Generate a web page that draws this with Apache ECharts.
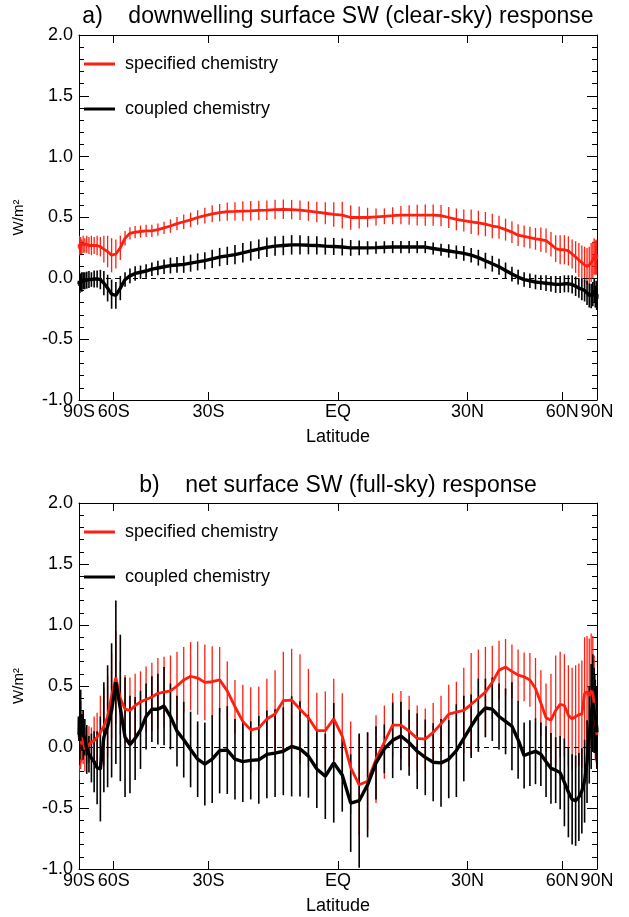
<html>
<head>
    <meta charset="utf-8">
    <title>SW response</title>
    <script src="https://cdn.jsdelivr.net/npm/echarts@6/dist/echarts.min.js"></script>
</head>
<body style="margin:0;background:#fff;">
<div id="main" style="width:629px;height:917px;"></div>
<script type="text/javascript">
    // model latitudes (1.875 deg grid)
    var lats = [-89.06,-87.19,-85.31,-83.44,-81.56,-79.69,-77.81,-75.94,-74.06,-72.19,-70.31,-68.44,-66.56,-64.69,-62.81,-60.94,
        -59.06,-57.19,-55.31,-53.44,-51.56,-49.69,-47.81,-45.94,-44.06,-42.19,-40.31,-38.44,-36.56,-34.69,-32.81,-30.94,
        -29.06,-27.19,-25.31,-23.44,-21.56,-19.69,-17.81,-15.94,-14.06,-12.19,-10.31,-8.44,-6.56,-4.69,-2.81,-0.94,
        0.94,2.81,4.69,6.56,8.44,10.31,12.19,14.06,15.94,17.81,19.69,21.56,23.44,25.31,27.19,29.06,
        30.94,32.81,34.69,36.56,38.44,40.31,42.19,44.06,45.94,47.81,49.69,51.56,53.44,55.31,57.19,59.06,
        60.94,62.81,64.69,66.56,68.44,70.31,72.19,74.06,75.94,77.81,79.69,81.56,83.44,85.31,87.19,89.06];

    var tickLats = [-90, -60, -30, 0, 30, 60, 90];
    var tickNames = ['90S', '60S', '30S', 'EQ', '30N', '60N', '90N'];

    // a) downwelling surface SW (clear-sky)
    var aSpec = [0.25,0.28,0.24,0.27,0.26,0.28,0.27,0.28,0.27,0.27,0.27,0.27,0.26,0.24,0.22,0.19,
        0.20,0.25,0.33,0.37,0.38,0.385,0.39,0.39,0.40,0.415,0.43,0.45,0.465,0.48,0.50,0.515,
        0.53,0.54,0.548,0.55,0.553,0.555,0.558,0.56,0.565,0.567,0.565,0.56,0.553,0.545,0.535,0.525,
        0.52,0.50,0.50,0.50,0.505,0.51,0.515,0.52,0.52,0.52,0.52,0.52,0.515,0.50,0.485,0.475,
        0.465,0.455,0.445,0.43,0.42,0.40,0.38,0.355,0.345,0.335,0.325,0.318,0.31,0.28,0.245,0.235,
        0.235,0.225,0.20,0.175,0.15,0.13,0.11,0.10,0.11,0.13,0.15,0.18,0.17,0.20,0.16,0.19];
    var aSpecErr = [0.06,0.07,0.05,0.07,0.06,0.07,0.06,0.07,0.07,0.08,0.07,0.08,0.08,0.11,0.13,0.14,
        0.12,0.10,0.06,0.05,0.05,0.05,0.05,0.05,0.05,0.05,0.055,0.055,0.06,0.06,0.06,0.065,
        0.07,0.07,0.075,0.075,0.08,0.08,0.08,0.08,0.08,0.08,0.08,0.08,0.08,0.085,0.09,0.10,
        0.11,0.10,0.09,0.08,0.07,0.065,0.07,0.075,0.08,0.085,0.087,0.087,0.087,0.087,0.09,0.09,
        0.10,0.10,0.10,0.10,0.095,0.09,0.09,0.09,0.09,0.09,0.09,0.10,0.10,0.10,0.11,0.12,
        0.12,0.12,0.12,0.13,0.14,0.14,0.15,0.15,0.15,0.16,0.15,0.15,0.14,0.12,0.13,0.12];
    var aCoup = [-0.05,-0.02,-0.06,-0.03,-0.03,-0.02,-0.02,-0.015,-0.01,-0.01,-0.005,-0.005,-0.01,-0.04,-0.08,-0.13,
        -0.14,-0.08,-0.01,0.02,0.04,0.05,0.06,0.075,0.085,0.095,0.105,0.11,0.115,0.125,0.135,0.145,
        0.16,0.175,0.185,0.195,0.21,0.225,0.24,0.255,0.265,0.27,0.275,0.275,0.272,0.27,0.265,0.262,
        0.258,0.25,0.25,0.25,0.252,0.255,0.257,0.257,0.257,0.257,0.257,0.245,0.235,0.225,0.215,0.205,
        0.19,0.17,0.145,0.12,0.095,0.065,0.035,0.01,-0.01,-0.02,-0.03,-0.035,-0.04,-0.045,-0.05,-0.05,
        -0.045,-0.045,-0.05,-0.065,-0.08,-0.09,-0.10,-0.12,-0.14,-0.145,-0.13,-0.10,-0.15,-0.12,-0.17,-0.13];
    var aCoupErr = [0.07,0.08,0.06,0.07,0.08,0.07,0.07,0.07,0.07,0.06,0.07,0.07,0.08,0.10,0.11,0.12,
        0.11,0.10,0.06,0.06,0.06,0.055,0.055,0.055,0.06,0.06,0.065,0.065,0.07,0.07,0.07,0.07,
        0.075,0.075,0.075,0.08,0.08,0.08,0.08,0.08,0.08,0.08,0.08,0.08,0.075,0.075,0.07,0.07,
        0.07,0.065,0.06,0.055,0.05,0.05,0.05,0.05,0.05,0.05,0.05,0.05,0.05,0.055,0.055,0.06,
        0.06,0.065,0.065,0.065,0.065,0.065,0.06,0.06,0.06,0.06,0.06,0.06,0.065,0.065,0.07,0.07,
        0.07,0.07,0.075,0.08,0.08,0.09,0.09,0.10,0.10,0.10,0.10,0.10,0.09,0.10,0.09,0.10];

    // b) net surface SW (full-sky)
    var bSpec = [0.08,0.12,0.05,0.10,0.02,0.08,-0.02,-0.02,0.02,0.04,0.05,0.08,0.12,0.17,0.25,0.42,
        0.57,0.40,0.31,0.30,0.34,0.37,0.39,0.41,0.44,0.45,0.46,0.50,0.55,0.58,0.565,0.53,
        0.535,0.55,0.46,0.33,0.21,0.14,0.155,0.23,0.27,0.38,0.385,0.31,0.24,0.135,0.135,0.23,
        0.09,-0.17,-0.31,-0.28,-0.10,0.04,0.18,0.18,0.13,0.07,0.065,0.12,0.19,0.27,0.285,0.30,
        0.35,0.40,0.45,0.53,0.63,0.655,0.62,0.59,0.575,0.55,0.48,0.36,0.24,0.22,0.30,0.35,
        0.34,0.26,0.23,0.25,0.265,0.27,0.44,0.45,0.42,0.46,0.44,0.35,0.24,0.18,0.12,0.10];
    var bSpecErr = [0.35,0.30,0.20,0.28,0.15,0.22,0.18,0.12,0.15,0.12,0.20,0.20,0.30,0.32,0.33,0.35,
        0.38,0.30,0.28,0.27,0.26,0.25,0.27,0.28,0.29,0.29,0.29,0.28,0.27,0.28,0.30,0.31,
        0.29,0.27,0.24,0.22,0.30,0.35,0.34,0.33,0.36,0.40,0.42,0.45,0.40,0.31,0.32,0.33,
        0.35,0.38,0.41,0.40,0.36,0.30,0.26,0.28,0.29,0.27,0.25,0.24,0.23,0.24,0.25,0.35,
        0.42,0.40,0.37,0.30,0.24,0.23,0.22,0.21,0.20,0.22,0.25,0.27,0.28,0.38,0.45,0.43,
        0.42,0.41,0.42,0.42,0.42,0.44,0.46,0.46,0.47,0.47,0.47,0.40,0.35,0.30,0.30,0.28];
    var bCoup = [0.10,0.25,0.05,0.27,0.12,0.10,0.08,-0.02,-0.06,-0.09,-0.12,-0.17,-0.18,0.08,0.17,0.30,
        0.53,0.32,0.08,0.02,0.07,0.14,0.25,0.31,0.31,0.335,0.25,0.13,0.06,-0.02,-0.10,-0.14,
        -0.10,-0.03,-0.025,-0.10,-0.12,-0.11,-0.105,-0.06,-0.05,-0.035,0.005,-0.015,-0.075,-0.18,-0.24,-0.13,
        -0.23,-0.46,-0.44,-0.31,-0.13,-0.015,0.055,0.09,0.035,-0.035,-0.085,-0.125,-0.13,-0.10,-0.03,0.07,
        0.17,0.26,0.32,0.31,0.25,0.21,0.17,0.06,-0.07,-0.05,-0.035,-0.06,-0.12,-0.175,-0.19,-0.21,
        -0.29,-0.37,-0.43,-0.44,-0.41,-0.36,-0.28,-0.12,0.10,0.25,0.36,0.30,0.25,0.20,0.16,0.12];
    var bCoupErr = [0.25,0.20,0.15,0.20,0.15,0.20,0.15,0.20,0.15,0.20,0.25,0.30,0.43,0.45,0.50,0.55,
        0.67,0.60,0.49,0.40,0.34,0.32,0.27,0.27,0.29,0.32,0.27,0.29,0.31,0.31,0.31,0.34,
        0.36,0.35,0.36,0.33,0.33,0.32,0.36,0.36,0.36,0.36,0.41,0.39,0.34,0.32,0.35,0.49,
        0.30,0.40,0.55,0.43,0.30,0.20,0.31,0.28,0.27,0.31,0.31,0.32,0.36,0.32,0.38,0.35,
        0.26,0.30,0.24,0.26,0.27,0.27,0.36,0.32,0.27,0.27,0.27,0.26,0.29,0.29,0.27,0.30,
        0.36,0.37,0.37,0.37,0.36,0.35,0.34,0.34,0.40,0.43,0.40,0.35,0.30,0.30,0.30,0.30];

    var RED = '#ff1e10';
    var BLACK = '#000000';
    var FONT = 'Liberation Sans';

    // x axis is area weighted: plot against sin(latitude)
    function sinLat(d) { return Math.sin(d * Math.PI / 180); }
    var tickPos = tickLats.map(sinLat);

    function fmtLat(v) {
        for (var i = 0; i < tickPos.length; i++) {
            if (Math.abs(tickPos[i] - v) < 1e-6) return tickNames[i];
        }
        return '';
    }

    function linePts(vals) {
        return vals.map(function (v, i) { return [sinLat(lats[i]), v]; });
    }
    function barPts(vals, errs) {
        return vals.map(function (v, i) { return [sinLat(lats[i]), v - errs[i], v + errs[i]]; });
    }

    function xAxisOf(gi, pos, labels) {
        return {
            type: 'value', gridIndex: gi, position: pos, min: -1, max: 1,
            name: labels ? 'Latitude' : '', nameLocation: 'middle', nameGap: 28,
            nameTextStyle: {fontSize: 18, color: '#000', fontFamily: FONT},
            axisLine: {onZero: false, lineStyle: {color: '#000', width: 1}},
            axisTick: {show: true, inside: true, length: 8, customValues: tickPos, lineStyle: {color: '#000'}},
            axisLabel: {show: labels, customValues: tickPos, formatter: fmtLat, fontSize: 18, color: '#000', margin: 3, fontFamily: FONT},
            splitLine: {show: false}
        };
    }

    function yAxisOf(gi, pos, labels) {
        return {
            type: 'value', gridIndex: gi, position: pos, min: -1, max: 2, interval: 0.5,
            name: labels ? 'W/m²' : '', nameLocation: 'middle', nameGap: 53, nameRotate: 90,
            nameTextStyle: {fontSize: 15, color: '#000', fontFamily: FONT},
            axisLine: {onZero: false, lineStyle: {color: '#000', width: 1}},
            axisTick: {show: true, inside: true, length: 10, lineStyle: {color: '#000'}},
            minorTick: {show: true, splitNumber: 5, length: 5, lineStyle: {color: '#000'}},
            axisLabel: {show: labels, formatter: function (v) { return v.toFixed(1); }, fontSize: 18, color: '#000', margin: 6, fontFamily: FONT},
            splitLine: {show: false}
        };
    }

    function errBars(xi, yi, pts, color, w) {
        return {
            type: 'custom', xAxisIndex: xi, yAxisIndex: yi, data: pts, clip: true,
            encode: {x: 0, y: [1, 2]},
            renderItem: function (params, api) {
                var p1 = api.coord([api.value(0), api.value(1)]);
                var p2 = api.coord([api.value(0), api.value(2)]);
                return {type: 'line', shape: {x1: p1[0], y1: p1[1], x2: p2[0], y2: p2[1]}, style: {stroke: color, lineWidth: w}};
            }
        };
    }

    function meanLine(xi, yi, name, pts, color, w, zero) {
        var s = {
            type: 'line', name: name, xAxisIndex: xi, yAxisIndex: yi, data: pts,
            symbol: 'none', color: color, lineStyle: {color: color, width: w}, z: 5
        };
        if (zero) {
            s.markLine = {
                silent: true, symbol: 'none', label: {show: false},
                lineStyle: {type: [5, 4], color: '#000', width: 1},
                data: [{yAxis: 0}]
            };
        }
        return s;
    }

    function legendAt(top) {
        return {
            left: 79, top: top, orient: 'vertical', icon: 'rect', itemWidth: 31, itemHeight: 3, itemGap: 25,
            data: ['specified chemistry', 'coupled chemistry'],
            textStyle: {fontSize: 18, lineHeight: 20, color: '#000', fontFamily: FONT, padding: [0, 0, 0, 5]}
        };
    }

    var myChart = echarts.init(document.getElementById('main'));
    var option = {
        animation: false,
        backgroundColor: '#fff',
        textStyle: {fontFamily: FONT},
        graphic: [
            {type: 'text', x: 338, y: 17, style: {text: 'a)    downwelling surface SW (clear-sky) response', textAlign: 'center', textVerticalAlign: 'middle', fontSize: 23, fontFamily: FONT, fill: '#000'}},
            {type: 'text', x: 338, y: 486, style: {text: 'b)    net surface SW (full-sky) response', textAlign: 'center', textVerticalAlign: 'middle', fontSize: 23, fontFamily: FONT, fill: '#000'}}
        ],
        legend: [legendAt(49), legendAt(517)],
        grid: [
            {left: 79, top: 35, width: 518, height: 365},
            {left: 79, top: 503, width: 518, height: 366}
        ],
        xAxis: [xAxisOf(0, 'bottom', true), xAxisOf(0, 'top', false), xAxisOf(1, 'bottom', true), xAxisOf(1, 'top', false)],
        yAxis: [yAxisOf(0, 'left', true), yAxisOf(0, 'right', false), yAxisOf(1, 'left', true), yAxisOf(1, 'right', false)],
        series: [
            errBars(0, 0, barPts(aSpec, aSpecErr), RED, 1.3),
            errBars(0, 0, barPts(aCoup, aCoupErr), BLACK, 1.6),
            meanLine(0, 0, 'specified chemistry', linePts(aSpec), RED, 2.8, true),
            meanLine(0, 0, 'coupled chemistry', linePts(aCoup), BLACK, 3.4, false),

            errBars(2, 2, barPts(bSpec, bSpecErr), RED, 1.3),
            errBars(2, 2, barPts(bCoup, bCoupErr), BLACK, 1.6),
            meanLine(2, 2, 'specified chemistry', linePts(bSpec), RED, 2.8, true),
            meanLine(2, 2, 'coupled chemistry', linePts(bCoup), BLACK, 3.4, false)
        ]
    };
    myChart.setOption(option);
</script>
</body>
</html>
